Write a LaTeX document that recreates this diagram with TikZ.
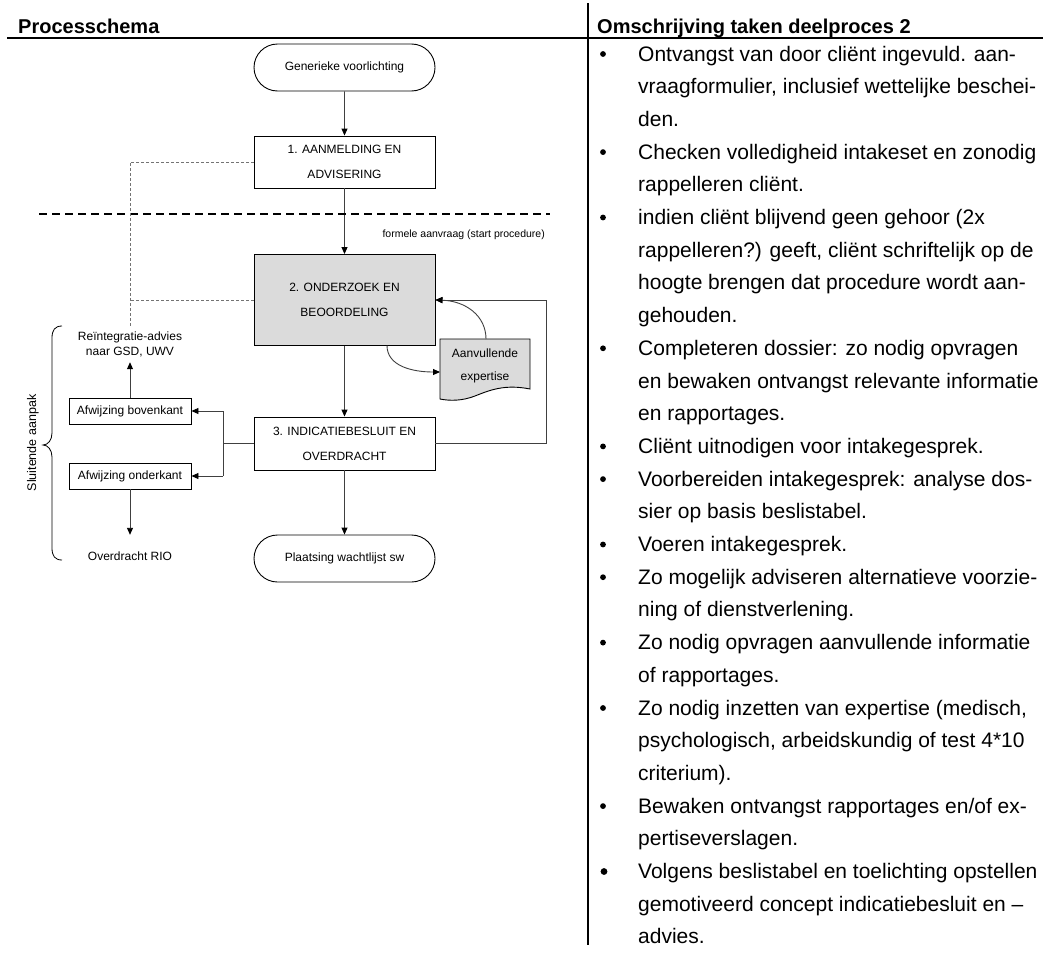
\documentclass[tikz,border=0pt]{standalone}
\usepackage{fontspec}
\setmainfont{Liberation Sans}
\usetikzlibrary{arrows.meta,shapes.misc}

\begin{document}
\begin{tikzpicture}[x=1pt,y=-1pt,
  dfont/.style={font=\fontsize{12}{25}\selectfont},
  box/.style={draw=black,line width=0.9pt,minimum width=181pt,align=center,inner sep=0pt,dfont},
  term/.style={box,rounded rectangle,minimum height=47pt},
  small/.style={draw=black,line width=0.9pt,minimum width=122pt,minimum height=26pt,inner sep=0pt,font=\fontsize{12}{14}\selectfont},
  plain/.style={inner sep=0pt,align=center,font=\fontsize{12}{15}\selectfont},
  conn/.style={line width=0.9pt,draw=black!75},
  arr/.style={conn,-{Triangle[length=7pt,width=6pt,color=black]}},
  dotc/.style={line width=0.9pt,draw=black!55,dash pattern=on 3pt off 2pt},
  head/.style={anchor=base west,inner sep=0pt,font=\bfseries\fontsize{20}{24}\selectfont},
  item/.style={anchor=base west,inner sep=0pt,font=\fontsize{21}{25}\selectfont},
  dot/.style={circle,fill=black,inner sep=0pt,minimum size=5.8pt}
]
\useasboundingbox (0,0) rectangle (1051,953);

% headings and column rules
\node[head] (h1) at (18,33) {Processchema};
\node[head] (h2) at (597,33) {Omschrijving taken deelproces 2};
\draw[line width=2pt] (7,38) -- (1043,38);
\draw[line width=2pt] (588,3) -- (588,945);

% main process column
\node[term] (gv) at (344.5,67.5) {Generieke voorlichting};
\node[box,minimum height=52pt] (b1) at (344.5,162) {1. AANMELDING EN\\ADVISERING};
\node[box,minimum height=91pt,fill=black!14] (b2) at (344.5,300) {2. ONDERZOEK EN\\BEOORDELING};
\node[box,minimum height=53pt] (b3) at (344.5,443.5) {3. INDICATIEBESLUIT EN\\OVERDRACHT};
\node[term] (pw) at (344.5,558.5) {Plaatsing wachtlijst sw};

\draw[arr] (gv) -- (b1);
\draw[arr] (b1) -- (b2);
\draw[arr] (b2) -- (b3);
\draw[arr] (b3) -- (pw);

% boundary of the formal procedure
\draw[line width=1.8pt,dash pattern=on 8pt off 5pt] (39,214) -- (550,214);
\node[anchor=east,inner sep=0pt,font=\fontsize{10.5}{12}\selectfont] (fa) at (545,235) {formele aanvraag (start procedure)};

% supplementary expertise document
\path[draw=black,line width=0.9pt,fill=black!14]
  (440,339) -- (530,339) -- (530,389)
  .. controls (505,384) and (490,390) .. (475,396)
  .. controls (462,401) and (450,401) .. (440,399) -- cycle;
\node[plain,font=\fontsize{12}{23}\selectfont] (doc) at (485,366) {Aanvullende\\expertise};
\coordinate (dIn) at (440,372);
\coordinate (dTop) at (486,339);
\coordinate (cOut) at (387,345.5);
\draw[arr] (cOut) .. controls (387,366) and (412,372) .. (dIn);
\draw[arr] (dTop) .. controls (486,316) and (466,301) .. (b2.east);

% loop back from decision to investigation
\coordinate (loopx) at (546,0);
\draw[arr] (b3.east) -- (b3.east -| loopx) |- (b2.east);

% closing approach on the left
\node[plain,minimum height=36pt] (ri) at (130,344) {Reïntegratie-advies\\naar GSD, UWV};
\node[small] (ab) at (130,411) {Afwijzing bovenkant};
\node[small] (ao) at (130,476) {Afwijzing onderkant};
\node[plain,minimum height=42pt] (rio) at (130,556) {Overdracht RIO};

\coordinate (jx) at (223,0);
\draw[conn] (b3.west) -- (b3.west -| jx);
\draw[conn] (jx |- ab.east) -- (jx |- ao.east);
\draw[arr] (jx |- ab.east) -- (ab.east);
\draw[arr] (jx |- ao.east) -- (ao.east);
\draw[arr] (ab) -- (ri);
\draw[arr] (ao) -- (rio);

\draw[dotc] (b1.west) -| (ri.north);
\draw[dotc] (b2.west) -- (b2.west -| ri.north);
\draw[-{Triangle[length=7pt,width=6pt,color=black]},draw=none] (130,318) -- (ri.north);

% brace grouping the closing approach
\draw[line width=0.8pt]
  (62,326) .. controls (55,326) and (52,330) .. (52,338) -- (52,433)
  .. controls (52,440) and (48,445) .. (43,445)
  .. controls (48,445) and (52,450) .. (52,457) -- (52,548)
  .. controls (52,556) and (55,560) .. (62,560);
\node[plain,rotate=90,font=\fontsize{12.5}{15}\selectfont] (sa) at (33,443) {Sluitende aanpak};

% task list
\foreach \t [count=\i] in {
  {Ontvangst van door cliënt ingevuld. aan-},
  {vraagformulier, inclusief wettelijke beschei-},
  {den.},
  {Checken volledigheid intakeset en zonodig},
  {rappelleren cliënt.},
  {indien cliënt blijvend geen gehoor (2x},
  {rappelleren?) geeft, cliënt schriftelijk op de},
  {hoogte brengen dat procedure wordt aan-},
  {gehouden.},
  {Completeren dossier: zo nodig opvragen},
  {en bewaken ontvangst relevante informatie},
  {en rapportages.},
  {Cliënt uitnodigen voor intakegesprek.},
  {Voorbereiden intakegesprek: analyse dos-},
  {sier op basis beslistabel.},
  {Voeren intakegesprek.},
  {Zo mogelijk adviseren alternatieve voorzie-},
  {ning of dienstverlening.},
  {Zo nodig opvragen aanvullende informatie},
  {of rapportages.},
  {Zo nodig inzetten van expertise (medisch,},
  {psychologisch, arbeidskundig of test 4*10},
  {criterium).},
  {Bewaken ontvangst rapportages en/of ex-},
  {pertiseverslagen.},
  {Volgens beslistabel en toelichting opstellen},
  {gemotiveerd concept indicatiebesluit en –},
  {advies.}}
  \node[item] (l\i) at (638,{61+32.7*(\i-1)}) {\t};

\foreach \i in {1,4,6,10,13,14,16,17,19,21,24}
  \node[dot] (bul\i) at (603,{61+32.7*(\i-1)-7}) {};
\node[dot,minimum size=6.8pt] (bul26) at (604,{61+32.7*25-7}) {};
\end{tikzpicture}
\end{document}
